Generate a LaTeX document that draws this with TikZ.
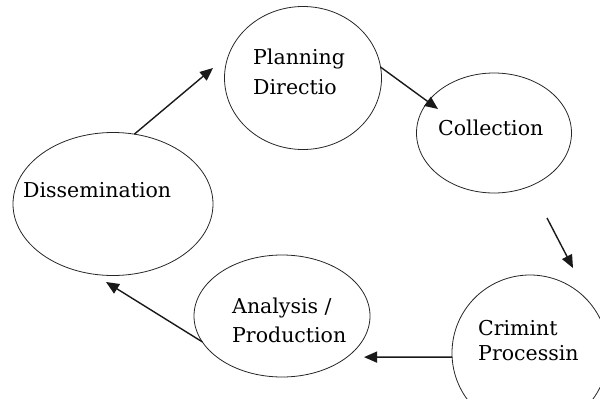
\documentclass[tikz,border=0pt]{standalone}
\usepackage{fontspec}
\setmainfont{DejaVu Serif}
\usetikzlibrary{shapes.geometric,arrows.meta}
\begin{document}
\begin{tikzpicture}[x=1pt,y=-1pt,
  stage/.style={draw=black!85, line width=0.8pt, ellipse, inner sep=0pt, outer sep=0pt},
  label/.style={anchor=base west, inner sep=0pt, font=\fontsize{20.5}{24}\selectfont},
  flow/.style={draw=black!90, line width=1.4pt, -{Triangle[length=13pt,width=11pt]}}]
  \useasboundingbox (0,0) rectangle (600,399);

  % stages of the cycle
  \node[stage, minimum width=157pt, minimum height=143pt] (plan) at (303,78) {};
  \node[stage, minimum width=155pt, minimum height=120pt] (coll) at (494,133) {};
  \node[stage, minimum width=156pt, minimum height=156pt] (proc) at (530,353) {};
  \node[stage, minimum width=176pt, minimum height=122pt] (anal) at (282,316) {};
  \node[stage, minimum width=200pt, minimum height=143pt] (diss) at (113,204) {};

  % stage names
  \node[label] (tplan1) at (253,64) {Planning};
  \node[label] (tplan2) at (253,94) {Directio};
  \node[label] (tcoll)  at (438,135) {Collection};
  \node[label] (tproc1) at (478,335) {Crimint};
  \node[label] (tproc2) at (478,360) {Processin};
  \node[label] (tanal1) at (232,313) {Analysis /};
  \node[label] (tanal2) at (232,342) {Production};
  \node[label] (tdiss)  at (23,197) {Dissemination};

  % free arrow ends
  \coordinate (toplan) at (213,68);
  \coordinate (tocoll) at (438,109);
  \coordinate (fromcoll) at (547,218);
  \coordinate (toproc) at (573,268);
  \coordinate (toanal) at (364,357.1);
  \coordinate (todiss) at (106,282);

  % arrows between stages
  \draw[flow] (diss.73) -- (toplan);
  \draw[flow] (plan.8) -- (tocoll);
  \draw[flow] (fromcoll) -- (toproc);
  \draw[flow] (proc.183) -- (toanal);
  \draw[flow] (anal.198) -- (todiss);
\end{tikzpicture}
\end{document}
